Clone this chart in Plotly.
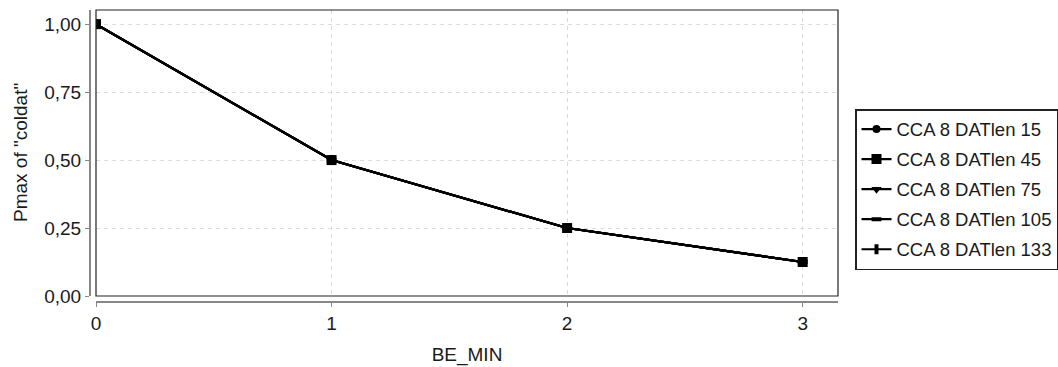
import plotly.graph_objects as go

# BE_MIN values and Pmax of "coldat" per DATlen setting
be_min = [0, 1, 2, 3]
series_names = ["CCA 8 DATlen 15", "CCA 8 DATlen 45", "CCA 8 DATlen 75",
                "CCA 8 DATlen 105", "CCA 8 DATlen 133"]
pmax_15 = [1.0, 0.5, 0.25, 0.125]
pmax_45 = [1.0, 0.5, 0.25, 0.125]
pmax_75 = [1.0, 0.5, 0.25, 0.125]
pmax_105 = [1.0, 0.5, 0.25, 0.125]
pmax_133 = [1.0, 0.5, 0.25, 0.125]
y_ticks = [0, 0.25, 0.5, 0.75, 1.0]
x_ticks = [0, 1, 2, 3]

series_values = [pmax_15, pmax_45, pmax_75, pmax_105, pmax_133]
symbols = ["circle", "square", "triangle-down", "line-ew", "line-ns"]
sizes = [8, 10, 9, 7, 7]

W, H = 1058, 367
ML, MR, MT, MB = 90, 220, 10, 65
pw, ph = W - ML - MR, H - MT - MB
FS = 19
LFS = 18.5

fig = go.Figure()
# draw the square-marker series last so it sits on top
draw_order = [0, 2, 3, 4, 1]
for i in draw_order:
    sym = symbols[i]
    marker = dict(symbol=sym, size=sizes[i], color="black")
    if sym.startswith("line"):
        marker["line"] = dict(color="black", width=4)
    fig.add_trace(go.Scatter(
        x=be_min, y=series_values[i], name=series_names[i],
        mode="lines+markers", line=dict(color="black", width=2.2),
        marker=marker, legendgroup=f"g{i}", legendrank=i + 1,
    ))

# outer box of the plotting area
fig.add_shape(type="rect", xref="x domain", yref="y domain",
              x0=0, x1=1, y0=0, y1=1, line=dict(color="#222", width=1.2),
              layer="above")

# y-axis title placed as a rotated annotation left of the tick labels
fig.add_annotation(text='Pmax of "coldat"', xref="paper", yref="y domain",
                   x=(20 - ML) / pw, y=0.5, xanchor="center", yanchor="middle",
                   textangle=-90, showarrow=False, font=dict(size=FS))

grid_style = dict(showgrid=True, gridcolor="#dcdcdc", griddash="4px,4px",
                  gridwidth=1, zeroline=False)

fig.update_layout(
    width=W, height=H,
    margin=dict(l=ML, r=MR, t=MT, b=MB, autoexpand=False),
    paper_bgcolor="white", plot_bgcolor="white",
    separators=",.",
    font=dict(family="Liberation Sans, Arial, sans-serif", size=FS, color="#1a1a1a"),
    xaxis=dict(
        domain=[6 / pw, 1], range=[0, 3.15],
        tickvals=x_ticks, ticks="outside", ticklen=4, tickcolor="#888",
        tickfont=dict(size=FS),
        showline=True, linecolor="#888", linewidth=2,
        anchor="free", position=0,
        title=dict(text="BE_MIN", standoff=14, font=dict(size=FS)),
        **grid_style,
    ),
    yaxis=dict(
        domain=[6 / ph, 1], range=[0, 1.052],
        tickvals=y_ticks, tickformat=".2f", ticks="outside", ticklen=4,
        tickcolor="#888", tickfont=dict(size=FS),
        showline=True, linecolor="#888", linewidth=2,
        anchor="free", position=0,
        **grid_style,
    ),
    legend=dict(
        x=(855 - ML) / pw, xanchor="left",
        y=(H - MB - 109) / ph, yanchor="top",
        bordercolor="#222", borderwidth=1.5,
        tracegroupgap=3, traceorder="grouped",
        font=dict(size=LFS),
        itemwidth=30,
    ),
)

fig.write_html("out.html")
